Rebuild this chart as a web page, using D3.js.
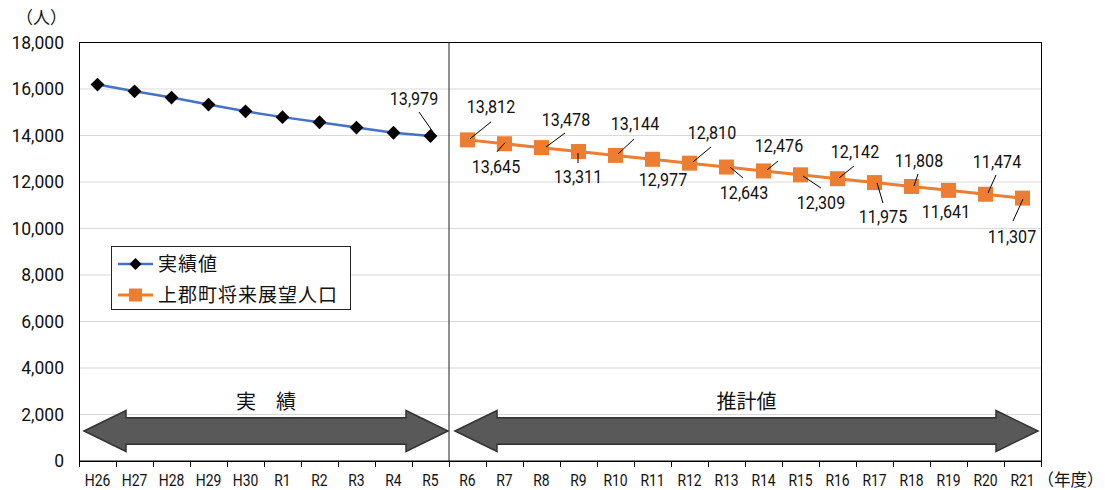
<!DOCTYPE html>
<html lang="ja">
<head>
<meta charset="utf-8">
<script src="https://cdn.jsdelivr.net/npm/d3@7"></script>
<style>
  html, body { margin: 0; padding: 0; background: #fff; }
  svg { display: block; }
  .num { font-family: Roboto, "Liberation Sans", sans-serif; fill: #111; }
  .jp { font-family: "Noto Sans CJK JP", "Noto Sans", sans-serif; fill: #111; }
</style>
</head>
<body>
<svg id="chart" width="1105" height="490"></svg>
<script>
// Fiscal years, actual population (H26–R5) and town vision projection (R6–R21)
const actualYears = ["H26", "H27", "H28", "H29", "H30", "R1", "R2", "R3", "R4", "R5"];
const actualValues = [16190, 15900, 15630, 15330, 15040, 14790, 14570, 14340, 14120, 13979];
const projYears = ["R6", "R7", "R8", "R9", "R10", "R11", "R12", "R13", "R14", "R15", "R16", "R17", "R18", "R19", "R20", "R21"];
const projValues = [13812, 13645, 13478, 13311, 13144, 12977, 12810, 12643, 12476, 12309, 12142, 11975, 11808, 11641, 11474, 11307];
const yTicks = [0, 2000, 4000, 6000, 8000, 10000, 12000, 14000, 16000, 18000];
const seriesNames = ["実績値", "上郡町将来展望人口"];
const periodNames = ["実　績", "推計値"];

// Data-label placement: text centre offset and leader line (relative to the marker)
const projLabelLayout = [
  { dx: 23.5, dy: -34, lead: [23.5, -18, 2.5, -1] },
  { dx: -8.5, dy: 23, lead: [0.5, -1, -7.5, 8] },
  { dx: 24.5, dy: -28.6, lead: [23.5, -14.6, 4.5, -0.6] },
  { dx: -0.5, dy: 24.5, lead: [-0.5, 1.5, -0.5, 11.5] },
  { dx: 19.5, dy: -32.4, lead: [18.5, -16.4, 2.5, -1.4] },
  { dx: 10.5, dy: 19.7, lead: null },
  { dx: 22.5, dy: -31.2, lead: [21.5, -16.2, 3.5, -1.2] },
  { dx: 17.5, dy: 24.9, lead: [3.5, 0, 16.5, 10.9] },
  { dx: 15.5, dy: -25.9, lead: [14.5, -9.9, 3.5, -0.9] },
  { dx: 20.5, dy: 27.2, lead: [2.5, 1.2, 20.5, 13.2] },
  { dx: 17.5, dy: -27.7, lead: [16.5, -12.7, 1.5, -0.7] },
  { dx: 8.5, dy: 33.4, lead: [2.5, 0.4, 8.5, 20.4] },
  { dx: 7.5, dy: -26.5, lead: [6.5, -12.5, 2.5, -0.5] },
  { dx: -2.5, dy: 20.7, lead: null },
  { dx: 11.5, dy: -33.2, lead: [10.5, -19.2, 2.5, -1.2] },
  { dx: -10.5, dy: 37.9, lead: [0.5, 0.9, -9.5, 22.9] }
];
const lastActualLayout = { dx: -16.5, dy: -38, lead: [-11.5, -24, 2.5, -4] };

const BLUE = "#4472C4", ORANGE = "#ED7D31";
const svg = d3.select("#chart");
const plot = { left: 79, right: 1041, top: 42.5, bottom: 461 };

const categories = actualYears.concat(projYears);
const x = d3.scaleBand().domain(categories).range([plot.left, plot.right]);
const y = d3.scaleLinear().domain([0, 18000]).range([plot.bottom, plot.top]);
const cx = c => x(c) + x.bandwidth() / 2;
const fmt = d3.format(",");

// Narrow, tall numerals: a horizontally compressed sans face
function numText(g, px, py, str, opts) {
  const o = Object.assign({ size: 18.5, sx: 0.87, anchor: "middle", dy: "0.36em" }, opts || {});
  return g.append("text").attr("class", "num")
    .attr("transform", `translate(${px},${py}) scale(${o.sx},1)`)
    .attr("dy", o.dy)
    .attr("text-anchor", o.anchor)
    .attr("font-size", o.size)
    .text(str);
}

// Horizontal gridlines
svg.append("g").selectAll("line")
  .data(yTicks.filter(t => t > 0 && t < 18000))
  .join("line")
  .attr("x1", plot.left).attr("x2", plot.right)
  .attr("y1", d => y(d)).attr("y2", d => y(d))
  .attr("stroke", "#d9d9d9").attr("stroke-width", 1);

// Plot frame
svg.append("rect")
  .attr("x", plot.left + 0.5).attr("y", plot.top)
  .attr("width", plot.right - plot.left).attr("height", plot.bottom - plot.top)
  .attr("fill", "none").attr("stroke", "#000").attr("stroke-width", 1);

// Divider between actual and projected periods
const divX = x("R6");
svg.append("line")
  .attr("x1", divX).attr("x2", divX)
  .attr("y1", plot.top).attr("y2", plot.bottom)
  .attr("stroke", "#222").attr("stroke-width", 1);

// Y axis labels
const yLab = svg.append("g");
yTicks.forEach(t => numText(yLab, 64, y(t), fmt(t), { anchor: "end", size: 17.5, sx: 1 }));

// X axis with ticks at category boundaries
const xAxis = svg.append("g");
xAxis.append("line")
  .attr("x1", plot.left).attr("x2", plot.right)
  .attr("y1", plot.bottom + 0.5).attr("y2", plot.bottom + 0.5)
  .attr("stroke", "#000");
xAxis.selectAll("line.tick")
  .data(categories.map(c => x(c)).concat([plot.right]))
  .join("line").attr("class", "tick")
  .attr("x1", d => Math.round(d) + 0.5).attr("x2", d => Math.round(d) + 0.5)
  .attr("y1", plot.bottom).attr("y2", plot.bottom + 6)
  .attr("stroke", "#000");
categories.forEach(c => numText(xAxis, cx(c), 485.5, c, { size: 17, sx: 0.82, dy: 0 }));

// Unit labels
svg.append("text").attr("class", "jp")
  .attr("x", 16).attr("y", 17.5).attr("dy", "0.36em")
  .attr("font-size", 17).text("（人）");
svg.append("text").attr("class", "jp")
  .attr("x", 1037.5).attr("y", 480).attr("dy", "0.36em")
  .attr("font-size", 16.5).text("（年度）");

// Period arrows
function arrowPath(x0, x1, yc) {
  const head = 42, hh = 20.5, sh = 13.3;
  return `M${x0},${yc} L${x0 + head},${yc - hh} L${x0 + head},${yc - sh} L${x1 - head},${yc - sh} ` +
         `L${x1 - head},${yc - hh} L${x1},${yc} L${x1 - head},${yc + hh} L${x1 - head},${yc + sh} ` +
         `L${x0 + head},${yc + sh} L${x0 + head},${yc + hh} Z`;
}
const arrowY = 431;
const arrows = [
  { x0: plot.left + 5, x1: divX - 1, label: periodNames[0] },
  { x0: divX + 6, x1: plot.right - 3, label: periodNames[1] }
];
svg.append("g").selectAll("path")
  .data(arrows).join("path")
  .attr("d", d => arrowPath(d.x0, d.x1, arrowY))
  .attr("fill", "#595959").attr("stroke", "#333").attr("stroke-width", 1.5);
svg.append("g").selectAll("text")
  .data(arrows).join("text")
  .attr("class", "jp")
  .attr("x", d => (d.x0 + d.x1) / 2).attr("y", 402)
  .attr("dy", "0.36em")
  .attr("text-anchor", "middle")
  .attr("font-size", 20)
  .text(d => d.label);

// Series lines and markers
const actualPts = actualYears.map((c, i) => [cx(c), y(actualValues[i])]);
const projPts = projYears.map((c, i) => [cx(c), y(projValues[i])]);
const line = d3.line();

svg.append("path").attr("d", line(actualPts))
  .attr("fill", "none").attr("stroke", BLUE).attr("stroke-width", 2.5);
svg.append("path").attr("d", line(projPts))
  .attr("fill", "none").attr("stroke", ORANGE).attr("stroke-width", 3);

svg.append("g").selectAll("path")
  .data(actualPts).join("path")
  .attr("d", d3.symbol().type(d3.symbolSquare).size(96))
  .attr("transform", d => `translate(${d[0]},${d[1]}) rotate(45)`)
  .attr("fill", "#000");

svg.append("g").selectAll("rect")
  .data(projPts).join("rect")
  .attr("x", d => d[0] - 7.5).attr("y", d => d[1] - 7.5)
  .attr("width", 15).attr("height", 15)
  .attr("fill", ORANGE);

// Data labels with leader lines
function drawLabel(g, pt, value, lay) {
  if (lay.lead) {
    g.append("line")
      .attr("x1", pt[0] + lay.lead[0]).attr("y1", pt[1] + lay.lead[1])
      .attr("x2", pt[0] + lay.lead[2]).attr("y2", pt[1] + lay.lead[3])
      .attr("stroke", "#000").attr("stroke-width", 1);
  }
  numText(g, pt[0] + lay.dx, pt[1] + lay.dy, fmt(value));
}
const labels = svg.append("g");
drawLabel(labels, actualPts[actualPts.length - 1], actualValues[actualValues.length - 1], lastActualLayout);
projPts.forEach((p, i) => drawLabel(labels, p, projValues[i], projLabelLayout[i]));

// Legend
const lg = svg.append("g");
lg.append("rect")
  .attr("x", 111.5).attr("y", 246.5).attr("width", 239).attr("height", 63)
  .attr("fill", "#fff").attr("stroke", "#222").attr("stroke-width", 1);
const legendRows = [
  { name: seriesNames[0], color: BLUE, y: 264, shape: "diamond" },
  { name: seriesNames[1], color: ORANGE, y: 295, shape: "square" }
];
legendRows.forEach(r => {
  lg.append("line").attr("x1", 118).attr("x2", 153).attr("y1", r.y).attr("y2", r.y)
    .attr("stroke", r.color).attr("stroke-width", r.shape === "square" ? 3 : 2.5);
  if (r.shape === "diamond") {
    lg.append("path").attr("d", d3.symbol().type(d3.symbolSquare).size(72))
      .attr("transform", `translate(135.5,${r.y}) rotate(45)`).attr("fill", "#000");
  } else {
    lg.append("rect").attr("x", 129).attr("y", r.y - 6.5).attr("width", 13).attr("height", 13)
      .attr("fill", ORANGE);
  }
  lg.append("text").attr("class", "jp")
    .attr("x", 158).attr("y", r.y).attr("dy", "0.36em")
    .attr("font-size", 19).attr("letter-spacing", 1)
    .text(r.name);
});
</script>
</body>
</html>
